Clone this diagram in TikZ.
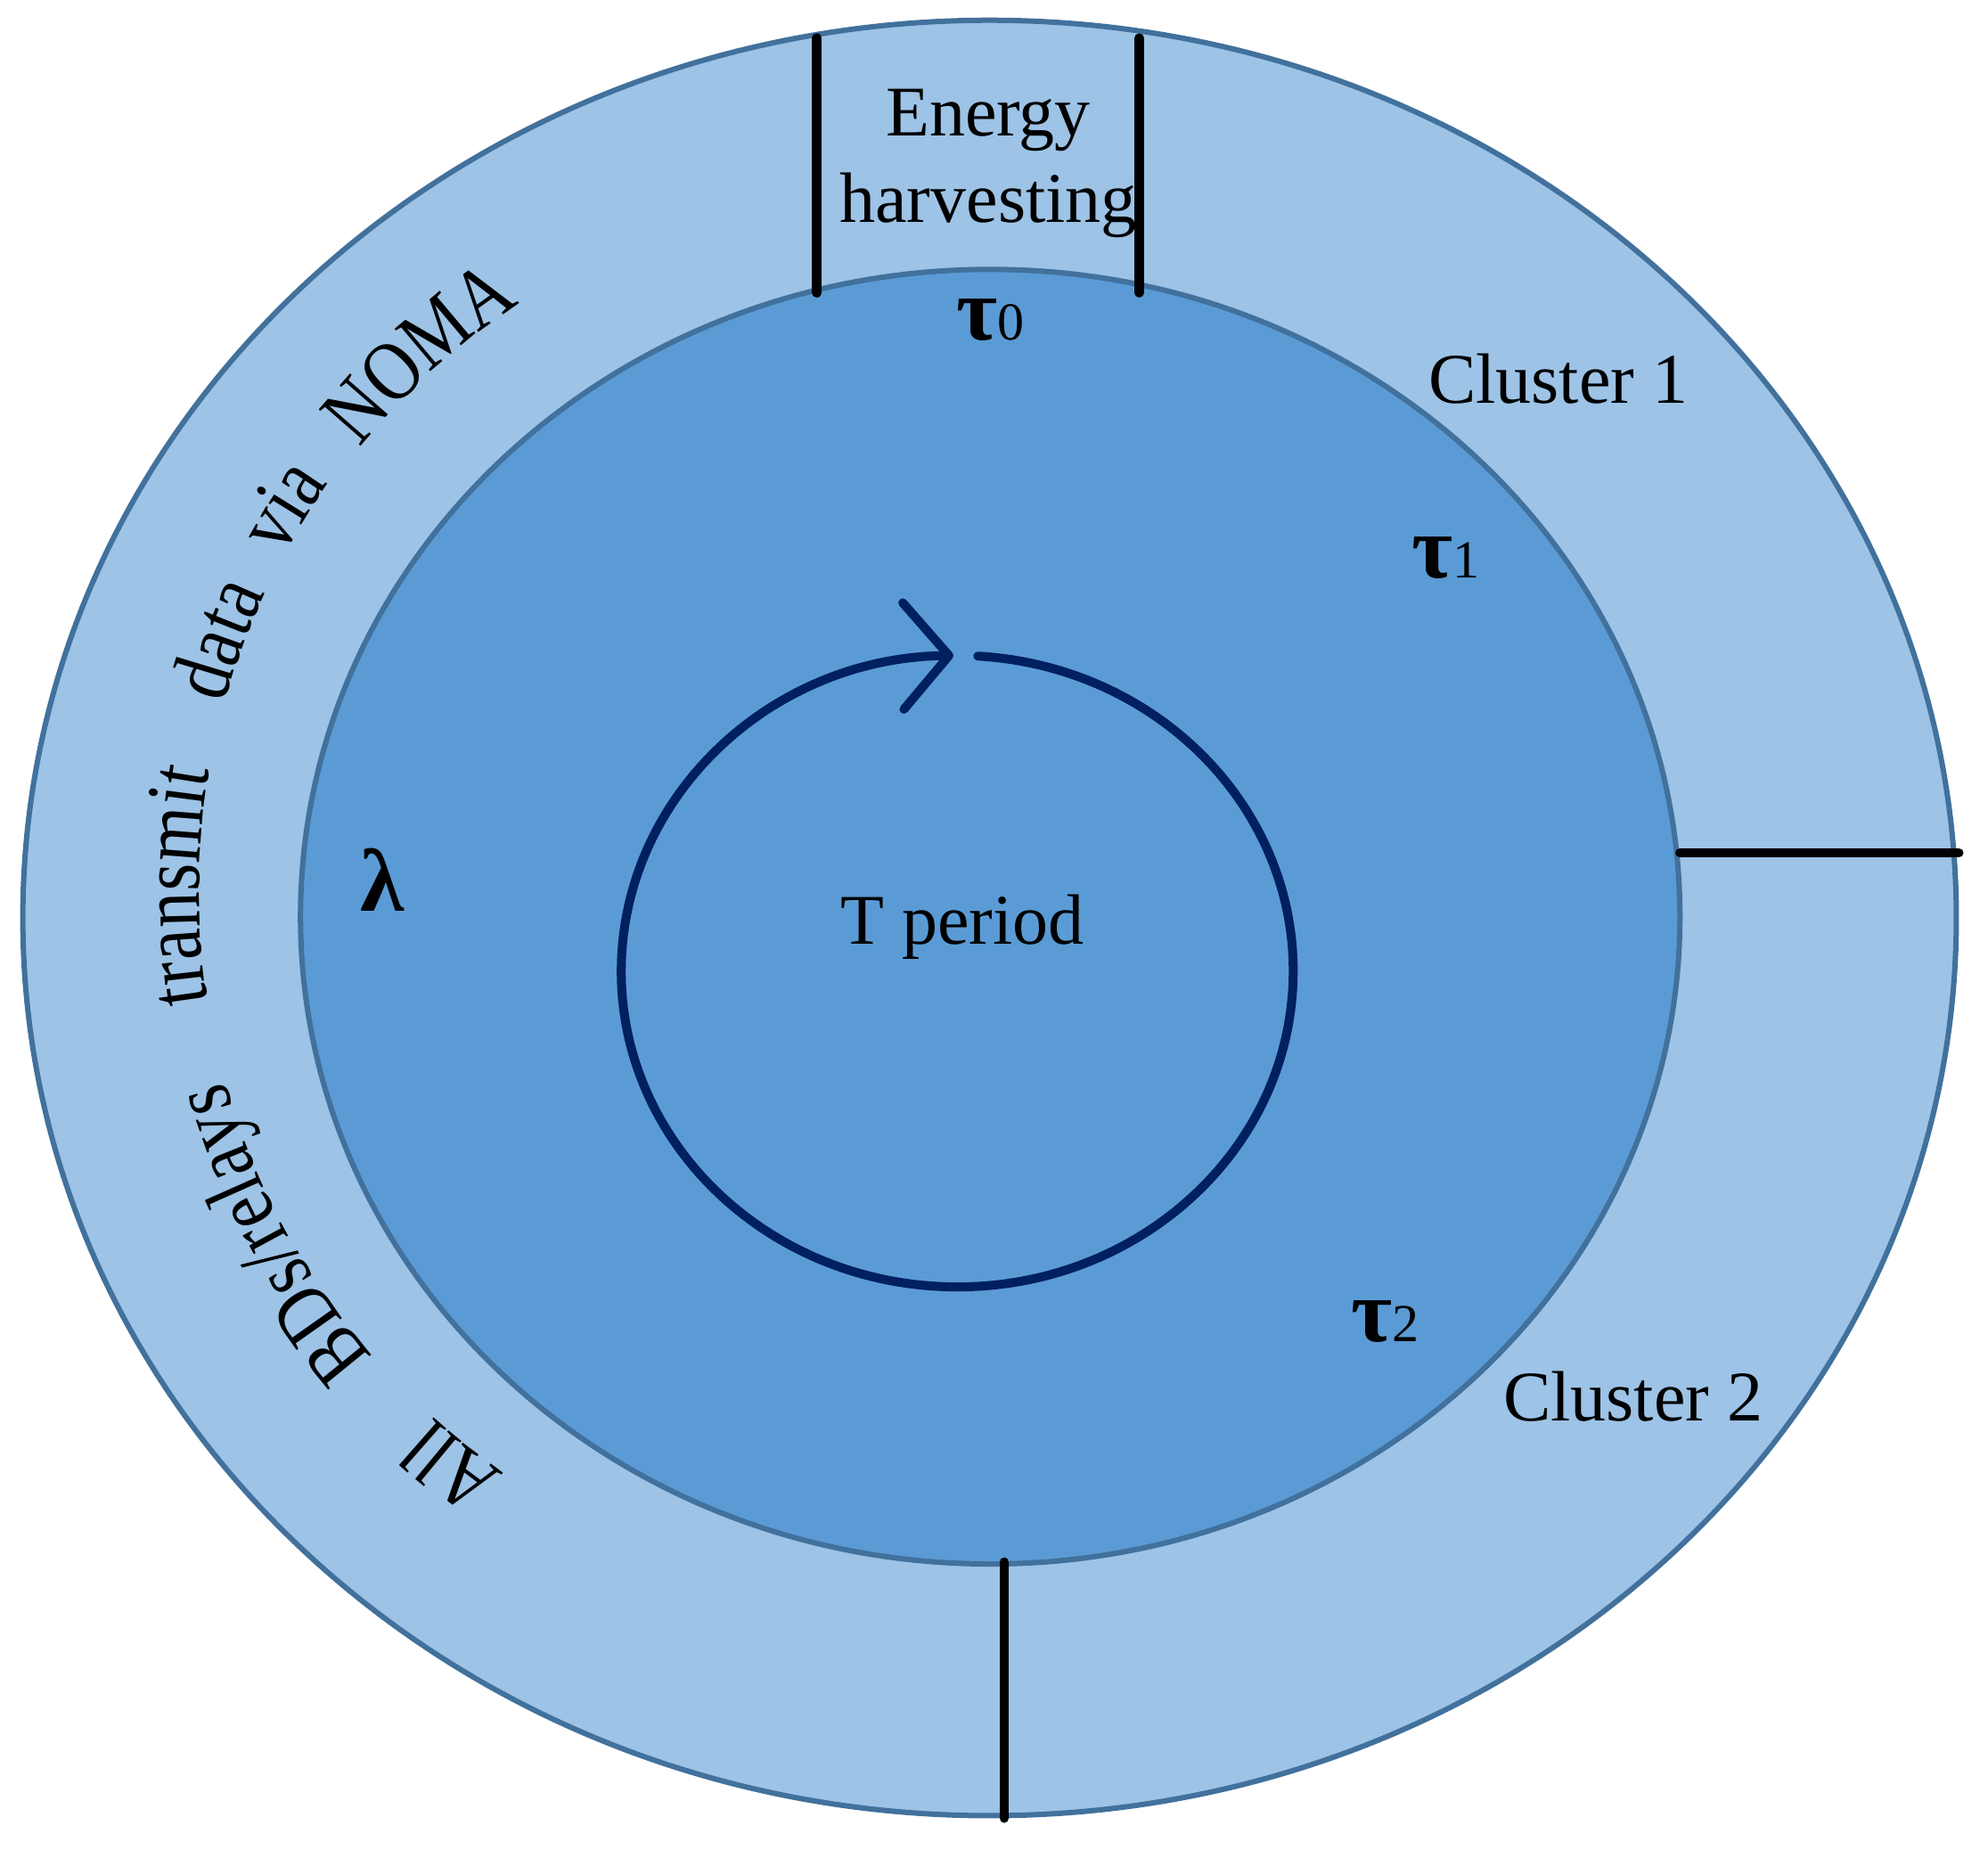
\documentclass[tikz,border=0pt]{standalone}
\usepackage{fontspec}
\setmainfont{Liberation Serif}
\newfontfamily\archfont[FakeStretch=0.84]{Liberation Serif}
\usetikzlibrary{positioning, arrows.meta, decorations.text}
\definecolor{ringblue}{HTML}{9DC3E6}
\definecolor{coreblue}{HTML}{5B9BD5}
\definecolor{rimblue}{HTML}{41719C}
\definecolor{loopnavy}{HTML}{002060}

\begin{document}
\begin{tikzpicture}[
      ring/.style    = {fill=ringblue, draw=rimblue, line width=1.2pt},
      core/.style    = {fill=coreblue, draw=rimblue, line width=1.2pt},
      split/.style   = {draw=black, line width=2.1pt, line cap=round},
      label/.style   = {inner sep=0pt, font=\fontsize{16}{19.3}\selectfont, align=center},
      greek/.style   = {inner sep=0pt, anchor=base west, font=\fontsize{20}{24}\selectfont\bfseries},
      arcword/.style = {decorate, decoration={text along path,
                        text={|\archfont\fontsize{19}{22}\selectfont|#1}}}
    ]
    \useasboundingbox (0,0) rectangle (15.68,14.59);
    \draw[ring] (7.805,7.35) ellipse [x radius=7.625, y radius=7.08];
    \draw[core] (7.81,7.36) ellipse [x radius=5.44, y radius=5.105];

    \coordinate (eh-left-in)   at (6.443,12.28);
    \coordinate (eh-left-out)  at (6.443,14.29);
    \coordinate (eh-right-in)  at (8.985,12.28);
    \coordinate (eh-right-out) at (8.985,14.29);
    \coordinate (c12-in)       at (13.25,7.864);
    \coordinate (c12-out)      at (15.45,7.864);
    \coordinate (c2all-in)     at (7.92,2.27);
    \coordinate (c2all-out)    at (7.92,0.25);
    \draw[split] (eh-left-in) -- (eh-left-out);
    \draw[split] (eh-right-in) -- (eh-right-out);
    \draw[split] (c12-in) -- (c12-out);
    \draw[split] (c2all-in) -- (c2all-out);

    \draw[loopnavy, line width=2pt, line cap=round,
          -{Straight Barb[length=3.6mm, width=8.4mm, round]}]
      ([shift={(86.5:2.65 and 2.49)}] 7.55,6.93)
      arc [start angle=86.5, end angle=-269.35, x radius=2.65, y radius=2.49];

    \node[label] (harvest) at (7.795,13.30) {Energy\\harvesting};
    \node[label, anchor=base] (cluster1) at (12.29,11.41) {Cluster 1};
    \node[label, anchor=base] (cluster2) at (12.88,3.38) {Cluster 2};
    \node[label, anchor=base] (period) at (7.59,7.14) {T period};
    \node[greek] (tau0) at (7.54,11.91) {τ{\fontsize{12}{14}\selectfont\mdseries 0}};
    \node[greek] (tau1) at (11.13,10.03) {τ{\fontsize{12}{14}\selectfont\mdseries 1}};
    \node[greek] (tau2) at (10.65,4.01) {τ{\fontsize{12}{14}\selectfont\mdseries 2}};
    \node[greek, anchor=base] (lambda) at (3.015,7.40) {λ};

    \path[arcword={All}]
      ([shift={(235.3:5.58)}] 7.15,7.56) arc [start angle=235.3, end angle=195, radius=5.58];
    \path[arcword={BDs/relays}]
      ([shift={(221.1:5.58)}] 7.15,7.56) arc [start angle=221.1, end angle=175, radius=5.58];
    \path[arcword={transmit}]
      ([shift={(189:5.58)}] 7.15,7.56) arc [start angle=189, end angle=150, radius=5.58];
    \path[arcword={data}]
      ([shift={(164.6:5.58)}] 7.15,7.56) arc [start angle=164.6, end angle=125, radius=5.58];
    \path[arcword={via}]
      ([shift={(151.8:5.58)}] 7.15,7.56) arc [start angle=151.8, end angle=110, radius=5.58];
    \path[arcword={NOMA}]
      ([shift={(141:5.55)}] 7.15,7.56) arc [start angle=141, end angle=100, radius=5.55];
  \end{tikzpicture}
\end{document}
